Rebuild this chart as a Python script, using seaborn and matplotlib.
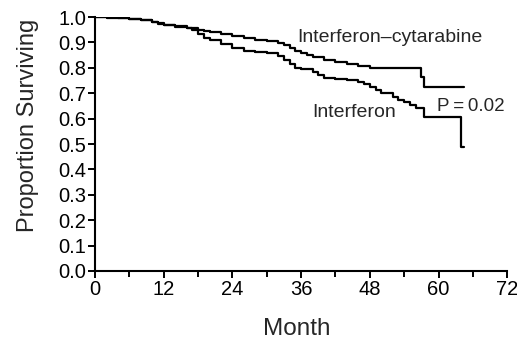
import matplotlib
matplotlib.use("Agg")
import matplotlib.pyplot as plt
import seaborn as sns
import pandas as pd
from matplotlib.ticker import MultipleLocator

# Data
combo_t = [0, 2, 4, 6, 8, 10, 11, 12, 14, 16, 18, 19, 20, 22, 24, 26, 28, 30, 32, 33, 34, 35, 36,
           37, 38, 40, 42, 44, 46, 48, 50, 52, 54, 56, 57, 57.5, 64.5]
combo_s = [1.0, 0.998, 0.995, 0.992, 0.99, 0.982, 0.975, 0.97, 0.963, 0.957, 0.95, 0.945, 0.94,
           0.933, 0.925, 0.918, 0.91, 0.905, 0.898, 0.89, 0.878, 0.865, 0.858, 0.85, 0.843, 0.832,
           0.823, 0.815, 0.808, 0.80, 0.80, 0.80, 0.80, 0.80, 0.764, 0.724, 0.724]

ifn_t = [0, 2, 4, 6, 8, 10, 11, 12, 14, 16, 17, 18, 19, 20, 22, 24, 26, 28, 30, 32, 33, 34, 35, 36,
         38, 39, 40, 42, 44, 46, 47, 48, 49, 50, 52, 53, 54, 55, 56, 57.5, 64, 64.5]
ifn_s = [1.0, 0.999, 0.997, 0.994, 0.99, 0.982, 0.972, 0.967, 0.962, 0.956, 0.95, 0.935, 0.918,
         0.908, 0.895, 0.878, 0.868, 0.863, 0.86, 0.845, 0.83, 0.815, 0.80, 0.795, 0.783, 0.77, 0.76,
         0.755, 0.752, 0.745, 0.735, 0.725, 0.713, 0.70, 0.685, 0.675, 0.665, 0.655, 0.642, 0.606,
         0.488, 0.488]

x_ticks = [0, 12, 24, 36, 48, 60, 72]
y_ticks = [0.0, 0.1, 0.2, 0.3, 0.4, 0.5, 0.6, 0.7, 0.8, 0.9, 1.0]

sns.set_style("ticks")
plt.rcParams['font.family'] = ['Liberation Sans', 'DejaVu Sans']

W, H = 517, 339
fig = plt.figure(figsize=(W / 100, H / 100), dpi=100)
ax = fig.add_axes([0.184, 0.2006, 0.797, 0.749])

df_c = pd.DataFrame({"Month": combo_t, "S": combo_s})
df_i = pd.DataFrame({"Month": ifn_t, "S": ifn_s})
sns.lineplot(data=df_c, x="Month", y="S", ax=ax, color="black", lw=1.6,
             drawstyle="steps-post", estimator=None, sort=False)
sns.lineplot(data=df_i, x="Month", y="S", ax=ax, color="black", lw=1.6,
             drawstyle="steps-post", estimator=None, sort=False)

ax.set_xlim(0, 72)
ax.set_ylim(0, 1.0)
ax.set_xticks(x_ticks)
ax.set_yticks(y_ticks)
ax.set_xticklabels([str(v) for v in x_ticks])
ax.set_yticklabels([f"{v:.1f}" for v in y_ticks])
ax.xaxis.set_minor_locator(MultipleLocator(6))
ax.tick_params(axis="both", which="major", direction="out", length=5, width=1.4,
               labelsize=14.5, color="black", labelcolor="black", pad=1.5)
ax.tick_params(axis="x", which="minor", direction="out", length=4, width=1.4, color="black")
for sp in ["left", "bottom"]:
    ax.spines[sp].set_linewidth(1.5)
    ax.spines[sp].set_color("black")
for sp in ["top", "right"]:
    ax.spines[sp].set_visible(False)

ax.set_xlabel("")
ax.set_ylabel("")
fig.text(297 / W, 1 - 335 / H, "Month", fontsize=17.5, ha="center", va="baseline")
fig.text(28.5 / W, 1 - 125 / H, "Proportion Surviving", fontsize=17, rotation=90,
         ha="center", va="center")

ax.text(35.3, 0.921, "Interferon\u2013cytarabine", fontsize=14, va="center", ha="left")
ax.text(37.9, 0.626, "Interferon", fontsize=14, va="center", ha="left")
ax.text(59.7, 0.630, "P\u2009=\u20090.02", fontsize=13.5, va="baseline", ha="left")

fig.savefig("out.png", dpi=100)
